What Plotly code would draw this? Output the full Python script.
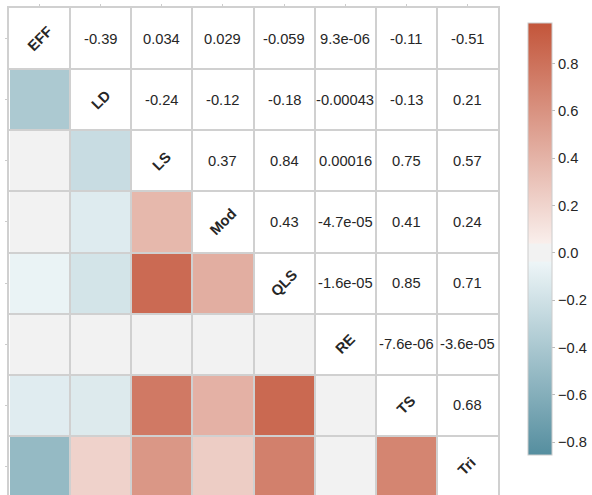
import plotly.graph_objects as go

# ---- data ----
labels = ["EFF", "LD", "LS", "Mod", "QLS", "RE", "TS", "Tri"]
row_EFF = [-0.39, 0.034, 0.029, -0.059, 9.3e-06, -0.11, -0.51]
row_LD = [-0.24, -0.12, -0.18, -0.00043, -0.13, 0.21]
row_LS = [0.37, 0.84, 0.00016, 0.75, 0.57]
row_Mod = [0.43, -4.7e-05, 0.41, 0.24]
row_QLS = [-1.6e-05, 0.85, 0.71]
row_RE = [-7.6e-06, -3.6e-05]
row_TS = [0.68]
upper_rows = [row_EFF, row_LD, row_LS, row_Mod, row_QLS, row_RE, row_TS, []]
cbar_min, cbar_max = -0.855, 0.97
cbar_ticks = [-0.8, -0.6, -0.4, -0.2, 0.0, 0.2, 0.4, 0.6, 0.8]

n = len(labels)
corr = [[1.0] * n for _ in range(n)]
for i, row in enumerate(upper_rows):
    for k, v in enumerate(row):
        j = i + 1 + k
        corr[i][j] = v
        corr[j][i] = v

# lower triangle only
z = [[corr[i][j] if i > j else None for j in range(n)] for i in range(n)]

# ---- colorscale (diverging, centered at 0) ----
neg_end = (63, 127, 147)
neg_light = (237, 245, 247)
mid = (242, 242, 242)
pos_light = (249, 238, 235)
pos_end = (195, 85, 58)
vr = max(abs(cbar_min), abs(cbar_max))
anchors = [(0, neg_end), (122, neg_light), (123, mid), (132, mid), (133, pos_light), (255, pos_end)]
pts = [(-vr + 2 * vr * i / 255.0, c) for i, c in anchors]


def interp(v):
    for (v0, c0), (v1, c1) in zip(pts[:-1], pts[1:]):
        if v0 <= v <= v1:
            t = (v - v0) / (v1 - v0) if v1 > v0 else 0
            return tuple(c0[k] + t * (c1[k] - c0[k]) for k in range(3))
    return pts[-1][1]


stops = []
vals = [cbar_min] + [v for v, _ in pts if cbar_min < v < cbar_max] + [cbar_max]
for v in vals:
    c = interp(v)
    p = (v - cbar_min) / (cbar_max - cbar_min)
    stops.append([min(max(p, 0), 1), "rgb(%d,%d,%d)" % tuple(round(x) for x in c)])

FONT = "Liberation Sans, Arial, sans-serif"
TXT = "#262626"
GRID = "#d0d0d0"

fig = go.Figure()
fig.add_trace(go.Heatmap(
    z=z, x=list(range(n)), y=list(range(n)),
    colorscale=stops, zmin=cbar_min, zmax=cbar_max,
    xgap=2, ygap=2, hoverongaps=False,
    colorbar=dict(
        thickness=24, len=432, lenmode="pixels",
        x=1.062, xanchor="left", xpad=0,
        y=0.5253, yanchor="middle", ypad=0,
        outlinecolor="#cccccc", outlinewidth=1,
        tickvals=cbar_ticks, tickformat=".1f",
        ticks="outside", ticklen=3, tickcolor="#bbbbbb",
        tickfont=dict(family=FONT, size=14.7, color=TXT),
    ),
))

ann = []
for i in range(n):
    for j in range(n):
        if i == j:
            ann.append(dict(x=j, y=i, text="<b>%s</b>" % labels[i], textangle=-45,
                            showarrow=False, font=dict(family=FONT, size=14.7, color=TXT)))
        elif j > i:
            ann.append(dict(x=j, y=i, text="{:.2g}".format(corr[i][j]),
                            showarrow=False, font=dict(family=FONT, size=14.7, color=TXT)))

bounds = [b - 0.5 for b in range(n + 1)]
cell_px = 489 / 8.0
fig.update_layout(
    width=592, height=495,
    margin=dict(l=9, r=94, t=8, b=0, autoexpand=False),
    paper_bgcolor="white", plot_bgcolor="white",
    annotations=ann,
    xaxis=dict(range=[-0.5, 7.5], tickvals=list(range(n)), showticklabels=False,
               ticks="outside", ticklen=2, tickcolor="#cccccc", side="top",
               showgrid=False, zeroline=False, automargin=False,
               showline=True, linecolor=GRID, linewidth=2, mirror=False,
               minor=dict(tickmode="array", tickvals=bounds, showgrid=True,
                          gridcolor=GRID, gridwidth=2, ticks="")),
    yaxis=dict(range=[-0.5 + 487 / cell_px, -0.5], tickvals=list(range(n)), showticklabels=False,
               ticks="outside", ticklen=2, tickcolor="#cccccc", automargin=False,
               showgrid=False, zeroline=False,
               showline=True, linecolor=GRID, linewidth=2, mirror=True,
               minor=dict(tickmode="array", tickvals=bounds, showgrid=True,
                          gridcolor=GRID, gridwidth=2, ticks="")),
)
fig.write_html("out.html", config={"displayModeBar": False},
               post_script="document.body.style.margin='0';document.body.style.overflow='hidden';")
